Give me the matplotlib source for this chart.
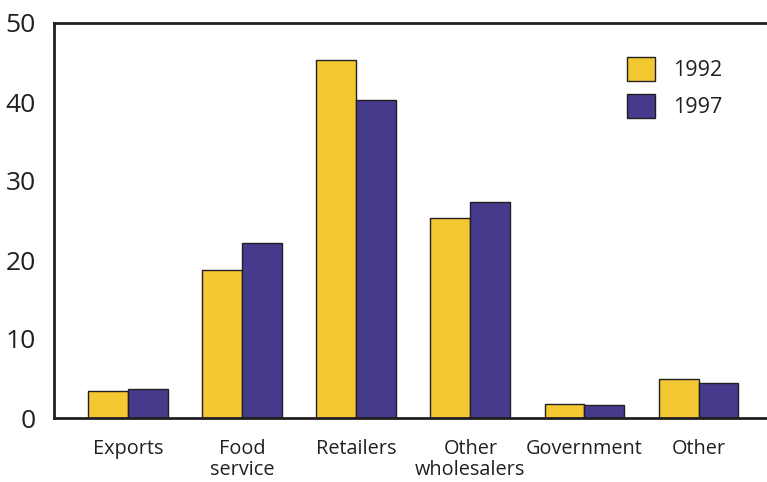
import matplotlib
matplotlib.use("Agg")
import matplotlib.pyplot as plt
import numpy as np

# data
categories = ["Exports", "Food\nservice", "Retailers", "Other\nwholesalers", "Government", "Other"]
vals_1992 = [3.4, 18.7, 45.3, 25.3, 1.8, 4.9]
vals_1997 = [3.7, 22.2, 40.3, 27.3, 1.6, 4.4]
yticks = [0, 10, 20, 30, 40, 50]

plt.rcParams["font.family"] = ["Open Sans", "DejaVu Sans"]
dark = "#231F20"

fig = plt.figure(figsize=(7.67, 4.82), dpi=100)
ax = fig.add_axes([54 / 767, 1 - 418 / 482, 1 - 54 / 767, 395 / 482])

x = np.arange(len(categories))
w = 0.35
ax.bar(x - w / 2, vals_1992, w, color="#F3C832", edgecolor=dark, linewidth=1.0, label="1992")
ax.bar(x + w / 2, vals_1997, w, color="#463A8C", edgecolor=dark, linewidth=1.0, label="1997")

ax.set_xlim(-0.65, 5.6)
ax.set_ylim(0, 50)
ax.set_yticks(yticks)
ax.set_yticklabels([str(t) for t in yticks], fontsize=19, color=dark)
ax.set_xticks(x)
ax.set_xticklabels(categories, fontsize=14.3, color=dark, linespacing=1.05)
ax.tick_params(length=0)
ax.tick_params(axis="y", pad=13)
ax.tick_params(axis="x", pad=15)

for s in ["top", "left", "bottom"]:
    ax.spines[s].set_linewidth(2)
    ax.spines[s].set_color(dark)
ax.spines["right"].set_visible(False)

leg = ax.legend(loc="upper left", bbox_to_anchor=(608 / 767, 1 - 38 / 482),
                bbox_transform=fig.transFigure, frameon=False, fontsize=15.5,
                handlelength=1.3, handleheight=1.3, handletextpad=0.8, labelspacing=0.6)
for t in leg.get_texts():
    t.set_color(dark)

fig.savefig("out.png", dpi=100)
